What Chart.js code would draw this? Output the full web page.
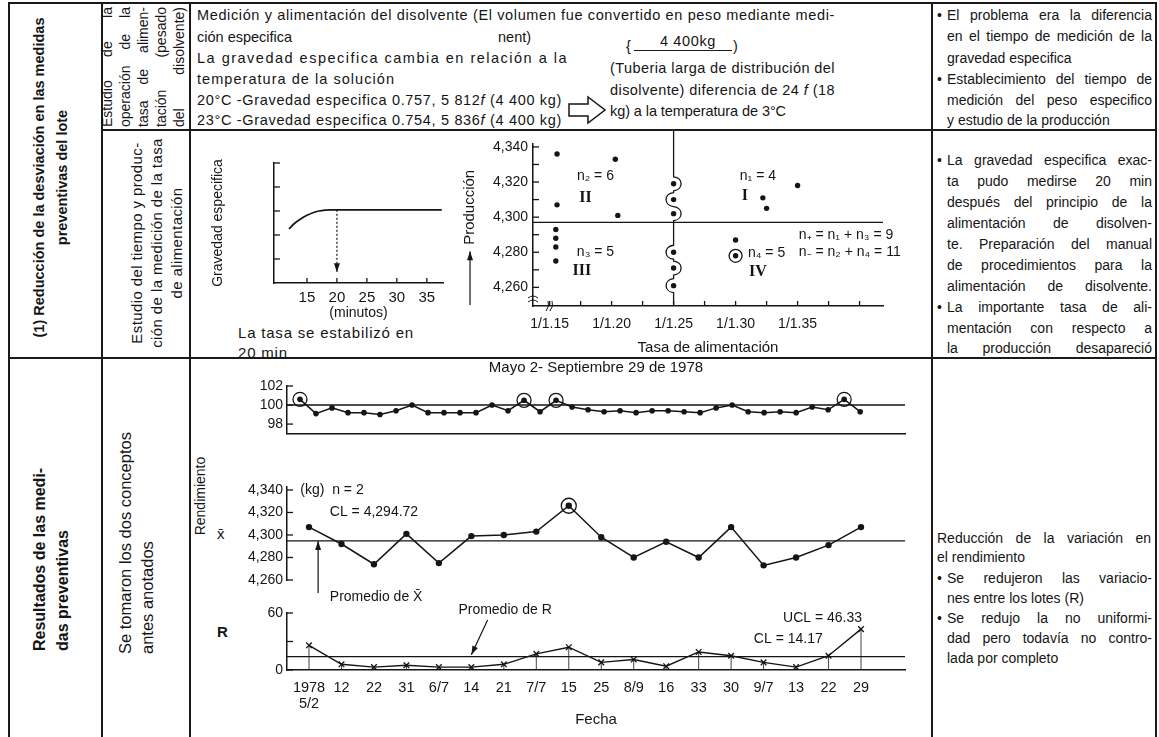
<!DOCTYPE html>
<html>
<head>
<meta charset="utf-8">
<script src="https://cdn.jsdelivr.net/npm/chart.js@4.4.0/dist/chart.umd.min.js"></script>
<style>
  body { margin: 0; background: #fff; }
  #page { position: relative; width: 1159px; height: 737px; overflow: hidden;
          font-family: "Liberation Sans", Arial, sans-serif; color: #151515; }
  .ln { position: absolute; background: #1a1a1a; }
  .t { position: absolute; white-space: nowrap; font-size: 14.5px; line-height: 20px; }
  .j { white-space: normal; text-align: justify; text-align-last: justify; }
  .rot { position: absolute; transform: rotate(-90deg); transform-origin: 0 0; }
  .c4 { font-size: 14px; line-height: 21px; }
  canvas { position: absolute; }
</style>
</head>
<body>
<div id="page">
  <!-- table rules -->
  <div class="ln" style="left:8px;top:2px;width:1149px;height:2px"></div>
  <div class="ln" style="left:8px;top:2px;width:1.5px;height:735px"></div>
  <div class="ln" style="left:1155px;top:2px;width:2px;height:735px"></div>
  <div class="ln" style="left:101px;top:2px;width:2px;height:735px"></div>
  <div class="ln" style="left:189px;top:2px;width:2px;height:735px"></div>
  <div class="ln" style="left:931px;top:2px;width:2px;height:735px"></div>
  <div class="ln" style="left:101px;top:129px;width:1056px;height:2px"></div>
  <div class="ln" style="left:8px;top:357px;width:1149px;height:2px"></div>

  <!-- first column -->
  <div class="rot" style="left:28px;top:350px;width:345px;line-height:23px;font-size:14.5px;font-weight:bold;text-align:center">(1) Reducción de la desviación en las medidas<br>preventivas del lote</div>
  <div class="rot" style="left:28px;top:651px;width:260px;line-height:23px;font-size:16px;font-weight:bold">Resultados de las medi-<br>das preventivas</div>

  <!-- second column -->
  <div class="rot j" style="left:98px;top:127px;width:120px;line-height:18px;font-size:14px">Estudio de la<br>operación de la<br>tasa de alimen-<br>tación (pesado<br>del disolvente)</div>
  <div class="rot" style="left:127px;top:350px;width:214px;line-height:20px;font-size:15px;letter-spacing:0.4px;text-align:center">Estudio del tiempo y produc-<br>ción de la medición de la tasa<br>de alimentación</div>
  <div class="rot" style="left:114px;top:654px;width:270px;line-height:22px;font-size:16.5px">Se tomaron los dos conceptos<br>antes anotados</div>

  <!-- row 1, third column -->
  <div class="t" data-w="638" style="left:197px;top:5px">Medición y alimentación del disolvente (El volumen fue convertido en peso mediante medi-</div>
  <div class="t" style="left:197px;top:27px">ción especifica</div>
  <div class="t" style="left:498px;top:27px">nent)</div>
  <div class="t" data-w="371" style="left:197px;top:48px">La gravedad especifica cambia en relación a la</div>
  <div class="t" data-w="198" style="left:197px;top:69px">temperatura de la solución</div>
  <div class="t" data-w="365" style="left:197px;top:90px">20°C -Gravedad especifica 0.757, 5 812<i>f</i> (4 400 kg)</div>
  <div class="t" data-w="365" style="left:197px;top:110px">23°C -Gravedad especifica 0.754, 5 836<i>f</i> (4 400 kg)</div>

  <div class="t" data-w="56" style="left:660px;top:31px">4 400kg</div>
  <div class="t" style="left:626px;top:36px">{</div>
  <div class="ln" style="left:634px;top:50px;width:98px;height:1.3px"></div>
  <div class="t" style="left:733px;top:36px">)</div>
  <div class="t" data-w="225" style="left:610px;top:58px">(Tuberia larga de distribución del</div>
  <div class="t" data-w="225" style="left:610px;top:80px">disolvente) diferencia de 24 <i>f</i> (18</div>
  <div class="t" data-w="176" style="left:610px;top:101px">kg) a la temperatura de 3°C</div>
  <svg style="position:absolute;left:567px;top:95px" width="42" height="32">
    <path d="M2 9 H21 V2 L38 15 L21 28 V21 H2 Z" fill="#fff" stroke="#151515" stroke-width="1.5"/>
  </svg>

  <!-- row 2, third column text -->
  <div class="t" style="left:238px;top:323px;font-size:15px;letter-spacing:0.8px">La tasa se estabilizó en</div>
  <div class="t" style="left:238px;top:343px;font-size:15px;letter-spacing:0.8px">20 min</div>

  <!-- section 2 axis words -->
  <div class="rot" style="left:192px;top:541px;width:90px;line-height:16px;font-size:14px;text-align:center">Rendimiento</div>
  <div class="t" style="left:217px;top:524px;font-size:15px">x̄</div>
  <div class="t" style="left:217px;top:622px;font-size:15px;font-weight:bold">R</div>

  <!-- fourth column -->
  <div class="t c4" style="left:937px;top:5px">•</div>
  <div class="t c4 j" style="left:947px;top:5px;width:205px">El problema era la diferencia</div>
  <div class="t c4 j" style="left:947px;top:26px;width:205px">en el tiempo de medición de la</div>
  <div class="t c4" style="left:947px;top:48px">gravedad especifica</div>
  <div class="t c4" style="left:937px;top:69px">•</div>
  <div class="t c4 j" style="left:947px;top:69px;width:205px">Establecimiento del tiempo de</div>
  <div class="t c4 j" style="left:947px;top:90px;width:205px">medición del peso especifico</div>
  <div class="t c4" style="left:947px;top:110px">y estudio de la producción</div>

  <div class="t c4" style="left:937px;top:150px">•</div>
  <div class="t c4 j" style="left:947px;top:150px;width:205px">La gravedad especifica exac-</div>
  <div class="t c4 j" style="left:947px;top:171px;width:205px">ta pudo medirse 20 min</div>
  <div class="t c4 j" style="left:947px;top:192px;width:205px">después del principio de la</div>
  <div class="t c4 j" style="left:947px;top:213px;width:205px">alimentación de disolven-</div>
  <div class="t c4 j" style="left:947px;top:234px;width:205px">te. Preparación del manual</div>
  <div class="t c4 j" style="left:947px;top:255px;width:205px">de procedimientos para la</div>
  <div class="t c4 j" style="left:947px;top:276px;width:205px">alimentación de disolvente.</div>
  <div class="t c4" style="left:937px;top:297px">•</div>
  <div class="t c4 j" style="left:947px;top:297px;width:205px">La importante tasa de ali-</div>
  <div class="t c4 j" style="left:947px;top:318px;width:205px">mentación con respecto a</div>
  <div class="t c4 j" style="left:947px;top:338px;width:205px">la producción desapareció</div>

  <div class="t c4 j" style="left:937px;top:528px;width:214px">Reducción de la variación en</div>
  <div class="t c4" style="left:937px;top:547px">el rendimiento</div>
  <div class="t c4" style="left:937px;top:568px">•</div>
  <div class="t c4 j" style="left:947px;top:568px;width:205px">Se redujeron las variacio-</div>
  <div class="t c4" style="left:947px;top:588px">nes entre los lotes (R)</div>
  <div class="t c4" style="left:937px;top:608px">•</div>
  <div class="t c4 j" style="left:947px;top:608px;width:205px">Se redujo la no uniformi-</div>
  <div class="t c4 j" style="left:947px;top:628px;width:205px">dad pero todavía no contro-</div>
  <div class="t c4" style="left:947px;top:648px">lada por completo</div>

  <canvas id="grav" width="270" height="190" style="left:190px;top:140px"></canvas>
  <canvas id="scat" width="487" height="228" style="left:440px;top:130px"></canvas>
  <canvas id="rend" width="737" height="88" style="left:190px;top:358px"></canvas>
  <canvas id="xbar" width="737" height="159" style="left:190px;top:446px"></canvas>
  <canvas id="rng" width="737" height="147" style="left:190px;top:590px"></canvas>
</div>

<script>
// stretch a few printed lines to the width they have in the scan
document.querySelectorAll('[data-w]').forEach((el) => {
  const natural = el.getBoundingClientRect().width;
  el.style.letterSpacing = ((+el.dataset.w - natural) / el.textContent.length) + 'px';
});

// ---- values ----
const gravMinutes = [12, 13, 14, 15, 16, 17, 18, 19, 20, 37.5];
const gravValues = [2.25, 2.5, 2.68, 2.82, 2.93, 3.0, 3.04, 3.05, 3.05, 3.05];
const gravXTicks = [15, 20, 25, 30, 35];
const gravYTicks = [1, 2, 3, 4, 5];
const gravSettled = 20;

const feedRate = [1.156, 1.156, 1.203, 1.205, 1.155, 1.155, 1.155, 1.155, 1.25, 1.25, 1.25, 1.25, 1.25, 1.25, 1.322, 1.325, 1.35, 1.30, 1.30];
const production = [4336, 4307, 4333, 4301, 4293, 4288, 4283, 4275, 4319, 4310, 4302, 4280, 4271, 4261, 4311, 4305, 4318, 4287, 4278];
const circledFeed = [1.30];
const circledProd = [4278];
const prodMean = 4297;
const feedSplit = 1.25;
const feedTicks = [1.15, 1.175, 1.2, 1.225, 1.25, 1.275, 1.3, 1.325, 1.35, 1.375, 1.4];
const feedLabelled = [1.15, 1.2, 1.25, 1.3, 1.35];
const prodTicks = [4260, 4270, 4280, 4290, 4300, 4310, 4320, 4330, 4340];

const yieldPct = [100.6, 99.1, 99.7, 99.2, 99.2, 99.0, 99.4, 100.0, 99.2, 99.2, 99.2, 99.2,
                  100.0, 99.4, 100.5, 99.3, 100.5, 99.8, 99.5, 99.3, 99.4, 99.2, 99.4, 99.4,
                  99.3, 99.2, 99.7, 100.0, 99.3, 99.2, 99.3, 99.2, 99.8, 99.5, 100.6, 99.3];
const yieldCircled = [0, 14, 16, 34];
const yieldTicks = [98, 99, 100, 101, 102];

const dates = [['1978', '5/2'], '12', '22', '31', '6/7', '14', '21', '7/7', '15',
               '25', '8/9', '16', '33', '30', '9/7', '13', '22', '29'];
const xbar = [4307, 4292, 4274, 4301, 4275, 4299, 4300, 4303, 4326, 4298, 4280, 4294,
              4280, 4307, 4273, 4280, 4291, 4307];
const xbarCircled = [8];
const xbarCL = 4294.72;
const xbarTicks = [4260, 4270, 4280, 4290, 4300, 4310, 4320, 4330, 4340];

const ranges = [26, 6, 3, 5, 3, 3, 6, 17, 24, 8, 11, 4, 19, 15, 8, 3, 15, 43];
const rangeCL = 14.17;
const rangeUCL = 46.33;
const rangeTicks = [0, 10, 20, 30, 40, 50, 60];

// ---- shared look ----
const ink = '#151515';
const sans = '"Liberation Sans", Arial, sans-serif';
const roman = 'bold 16px "Liberation Serif", serif';
Chart.defaults.font.family = sans;
Chart.defaults.font.size = 14;
Chart.defaults.color = ink;
Chart.defaults.animation = false;
Chart.defaults.devicePixelRatio = 1;
Chart.defaults.plugins.legend.display = false;
Chart.defaults.plugins.tooltip.enabled = false;

// pin the scale boxes so the plot areas sit where the scan has them
const fixW = (w) => (scale) => { scale.width = w; };
const fixH = (h) => (scale) => { scale.height = h; };
const setTicks = (vals) => (scale) => { scale.ticks = vals.map((v) => ({ value: v })); };
const axisBorder = { color: ink, width: 1.5 };
const noGrid = { display: false, drawTicks: false };

// tick marks drawn inside the plot, like the printed charts
const innerTicks = {
  id: 'innerTicks',
  afterDraw(chart, args, opts) {
    const ctx = chart.ctx;
    ctx.save();
    ctx.strokeStyle = ink;
    ctx.lineWidth = 1.3;
    ['x', 'y'].forEach((id) => {
      const len = opts[id];
      const s = chart.scales[id];
      if (!len || !s) return;
      s.ticks.forEach((t) => {
        const p = s.getPixelForValue(t.value);
        ctx.beginPath();
        if (id === 'y') { ctx.moveTo(s.right, p); ctx.lineTo(s.right + len, p); }
        else { ctx.moveTo(p, s.top); ctx.lineTo(p, s.top - len); }
        ctx.stroke();
      });
    });
    ctx.restore();
  }
};

const drawArrow = (ctx, x1, y1, x2, y2, dash) => {
  ctx.save();
  ctx.strokeStyle = ink;
  ctx.fillStyle = ink;
  ctx.lineWidth = 1.2;
  if (dash) ctx.setLineDash(dash);
  ctx.beginPath();
  ctx.moveTo(x1, y1);
  ctx.lineTo(x2, y2);
  ctx.stroke();
  ctx.setLineDash([]);
  const a = Math.atan2(y2 - y1, x2 - x1);
  ctx.beginPath();
  ctx.moveTo(x2, y2);
  ctx.lineTo(x2 - 9 * Math.cos(a) + 3 * Math.sin(a), y2 - 9 * Math.sin(a) - 3 * Math.cos(a));
  ctx.lineTo(x2 - 9 * Math.cos(a) - 3 * Math.sin(a), y2 - 9 * Math.sin(a) + 3 * Math.cos(a));
  ctx.closePath();
  ctx.fill();
  ctx.restore();
};

// labels and arrows placed in data units
const notes = {
  id: 'notes',
  afterDatasetsDraw(chart, args, opts) {
    const { ctx, scales: { x, y } } = chart;
    (opts.items || []).forEach((n) => {
      ctx.save();
      ctx.font = n.font || '14px ' + sans;
      ctx.fillStyle = ink;
      ctx.textAlign = n.align || 'left';
      ctx.textBaseline = 'middle';
      ctx.translate(x.getPixelForValue(n.x), y.getPixelForValue(n.y));
      if (n.rot) ctx.rotate(n.rot);
      ctx.fillText(n.text, 0, 0);
      ctx.restore();
    });
    (opts.arrows || []).forEach((a) => {
      drawArrow(ctx, x.getPixelForValue(a.x1), y.getPixelForValue(a.y1),
                x.getPixelForValue(a.x2), y.getPixelForValue(a.y2), a.dash);
    });
  }
};

// vertical split line that winds round the points lying on it
const waveLine = {
  id: 'waveLine',
  afterDatasetsDraw(chart) {
    const { ctx, chartArea, scales: { x, y } } = chart;
    const px = x.getPixelForValue(feedSplit);
    const ys = production.filter((p, i) => feedRate[i] === feedSplit)
      .map((v) => y.getPixelForValue(v)).sort((a, b) => a - b);
    ctx.save();
    ctx.strokeStyle = ink;
    ctx.lineWidth = 1.3;
    ctx.beginPath();
    ctx.moveTo(px, 0);
    ys.forEach((py, k) => {
      const side = k % 2 ? -1 : 1;
      ctx.lineTo(px, py - 7);
      ctx.bezierCurveTo(px + side * 10, py - 6, px + side * 10, py + 6, px, py + 7);
    });
    ctx.lineTo(px, chartArea.bottom);
    ctx.stroke();
    // axis break marks at the origin
    const bx = chartArea.left, by = chartArea.bottom;
    ctx.lineWidth = 1;
    [[bx, by - 9], [bx, by - 5]].forEach(([cx, cy]) => {
      ctx.beginPath();
      ctx.moveTo(cx - 5, cy + 1);
      ctx.quadraticCurveTo(cx, cy - 3, cx + 5, cy + 1);
      ctx.stroke();
    });
    [[bx + 14, by], [bx + 18, by]].forEach(([cx, cy]) => {
      ctx.beginPath();
      ctx.moveTo(cx - 1, cy + 5);
      ctx.quadraticCurveTo(cx + 3, cy, cx + 1, cy - 5);
      ctx.stroke();
    });
    ctx.restore();
  }
};

// thin drop lines from each range point to the zero line
const dropLines = {
  id: 'dropLines',
  beforeDatasetsDraw(chart) {
    const { ctx, scales: { x, y } } = chart;
    ctx.save();
    ctx.strokeStyle = ink;
    ctx.lineWidth = 0.8;
    ranges.forEach((v, i) => {
      const px = x.getPixelForValue(i);
      ctx.beginPath();
      ctx.moveTo(px, y.getPixelForValue(v));
      ctx.lineTo(px, y.getPixelForValue(0));
      ctx.stroke();
    });
    ctx.restore();
  }
};

// ---- specific gravity vs. minutes ----
new Chart(document.getElementById('grav'), {
  type: 'line',
  data: {
    datasets: [{
      data: gravMinutes.map((m, i) => ({ x: m, y: gravValues[i] })),
      borderColor: ink, borderWidth: 1.7, pointRadius: 0, cubicInterpolationMode: 'monotone'
    }]
  },
  options: {
    responsive: false,
    layout: { padding: { top: 23, right: 17 } },
    scales: {
      x: {
        type: 'linear', min: 9.5, max: 37.7,
        afterFit: fixH(47), afterBuildTicks: setTicks(gravXTicks),
        grid: noGrid, border: axisBorder,
        ticks: { padding: 6, font: { size: 15 } },
        title: { display: true, text: '(minutos)', padding: { top: 0, bottom: 8 }, font: { size: 14 } }
      },
      y: {
        min: 0, max: 5,
        afterFit: fixW(84), afterBuildTicks: setTicks(gravYTicks),
        grid: noGrid, border: axisBorder, ticks: { display: false },
        title: { display: true, text: 'Gravedad especifica', padding: { top: 20, bottom: 0 }, font: { size: 14 } }
      }
    },
    plugins: {
      innerTicks: { x: 5, y: 6 },
      notes: { arrows: [{ x1: gravSettled, y1: 3.05, x2: gravSettled, y2: 0.45, dash: [2, 2] }] }
    }
  },
  plugins: [innerTicks, notes]
});

// ---- production vs. feed rate ----
const xMinFeed = 1.1366, xMaxFeed = 1.4189;
new Chart(document.getElementById('scat'), {
  type: 'scatter',
  data: {
    datasets: [
      {
        data: feedRate.map((f, i) => ({ x: f, y: production[i] })),
        pointRadius: 2.7, pointBackgroundColor: ink, pointBorderWidth: 0
      },
      {
        data: circledFeed.map((f, i) => ({ x: f, y: circledProd[i] })),
        pointRadius: 6.5, pointBackgroundColor: 'transparent', pointBorderColor: ink, pointBorderWidth: 1.3
      },
      {
        type: 'line',
        data: [{ x: xMinFeed, y: prodMean }, { x: xMaxFeed, y: prodMean }],
        borderColor: ink, borderWidth: 1.3, pointRadius: 0
      }
    ]
  },
  options: {
    responsive: false,
    layout: { padding: { top: 9.4, right: 44 } },
    scales: {
      x: {
        type: 'linear', min: xMinFeed, max: xMaxFeed,
        afterFit: fixH(52), afterBuildTicks: setTicks(feedTicks),
        grid: noGrid, border: axisBorder,
        ticks: {
          padding: 10, autoSkip: false, maxRotation: 0,
          callback: (v) => feedLabelled.some((f) => Math.abs(f - v) < 1e-6) ? '1/' + v.toFixed(2) : ''
        },
        title: { display: true, text: 'Tasa de alimentación', padding: { top: 0, bottom: 1 }, font: { size: 15 } }
      },
      y: {
        min: 4249.4, max: 4342,
        afterFit: fixW(93), afterBuildTicks: setTicks(prodTicks),
        grid: noGrid, border: axisBorder,
        ticks: { padding: 5, callback: (v) => v % 20 === 0 ? v.toLocaleString('en-US') : '' }
      }
    },
    plugins: {
      innerTicks: { x: 5, y: 6 },
      notes: {
        items: [
          { x: 1.0858, y: 4305.6, text: 'Producción', align: 'center', rot: -Math.PI / 2, font: '15px ' + sans },
          { x: 1.187, y: 4323.6, text: 'n₂ = 6', align: 'center' },
          { x: 1.179, y: 4311, text: 'II', align: 'center', font: roman },
          { x: 1.187, y: 4280.2, text: 'n₃ = 5', align: 'center' },
          { x: 1.176, y: 4269.5, text: 'III', align: 'center', font: roman },
          { x: 1.318, y: 4323.6, text: 'n₁ = 4', align: 'center' },
          { x: 1.3075, y: 4312, text: 'I', align: 'center', font: roman },
          { x: 1.310, y: 4279.6, text: 'n₄ = 5' },
          { x: 1.318, y: 4268.6, text: 'IV', align: 'center', font: roman },
          { x: 1.351, y: 4289.8, text: 'n₊ = n₁ + n₃ = 9' },
          { x: 1.351, y: 4280.2, text: 'n₋ = n₂ + n₄ = 11' }
        ],
        arrows: [{ x1: 1.0858, y1: 4250, x2: 1.0858, y2: 4280.6 }]
      }
    }
  },
  plugins: [innerTicks, notes, waveLine]
});

// ---- yield (%) per sample ----
const rendMin = -0.81, rendMax = 37.8;
new Chart(document.getElementById('rend'), {
  type: 'line',
  data: {
    datasets: [
      {
        data: yieldPct.map((v, i) => ({ x: i, y: v })),
        borderColor: ink, borderWidth: 1.5, pointRadius: 2.8, pointBackgroundColor: ink, pointBorderWidth: 0
      },
      {
        data: yieldCircled.map((i) => ({ x: i, y: yieldPct[i] })),
        showLine: false, pointRadius: 7, pointBackgroundColor: 'transparent', pointBorderColor: ink, pointBorderWidth: 1.3
      },
      {
        data: [{ x: rendMin, y: 100 }, { x: rendMax, y: 100 }],
        borderColor: ink, borderWidth: 1.4, pointRadius: 0
      }
    ]
  },
  options: {
    responsive: false,
    layout: { padding: { top: 0, right: 22 } },
    scales: {
      x: {
        type: 'linear', min: rendMin, max: rendMax, afterFit: fixH(5),
        ticks: { display: false }, grid: noGrid, border: axisBorder
      },
      y: {
        min: 97, max: 102,
        afterFit: fixW(97), afterBuildTicks: setTicks(yieldTicks),
        grid: noGrid, border: axisBorder,
        ticks: { padding: 4, callback: (v) => v % 2 === 0 ? String(v) : '' }
      }
    },
    plugins: {
      title: {
        display: true, text: 'Mayo 2- Septiembre 29 de 1978', fullSize: false,
        padding: { top: 1, bottom: 9 }, font: { size: 15, weight: 'normal' }
      },
      innerTicks: { y: 6 }
    }
  },
  plugins: [innerTicks]
});

// ---- x-bar chart ----
const dMin = -0.678, dMax = 18.355;
new Chart(document.getElementById('xbar'), {
  type: 'line',
  data: {
    datasets: [
      {
        data: xbar.map((v, i) => ({ x: i, y: v })),
        borderColor: ink, borderWidth: 1.5, pointRadius: 3.2, pointBackgroundColor: ink, pointBorderWidth: 0
      },
      {
        data: xbarCircled.map((i) => ({ x: i, y: xbar[i] })),
        showLine: false, pointRadius: 7.5, pointBackgroundColor: 'transparent', pointBorderColor: ink, pointBorderWidth: 1.3
      },
      {
        data: [{ x: dMin, y: xbarCL }, { x: dMax, y: xbarCL }],
        borderColor: ink, borderWidth: 1.3, pointRadius: 0
      }
    ]
  },
  options: {
    responsive: false,
    layout: { padding: { top: 40.6, bottom: 25, right: 22 } },
    scales: {
      x: { type: 'linear', display: false, min: dMin, max: dMax },
      y: {
        min: 4260, max: 4343,
        afterFit: fixW(97), afterBuildTicks: setTicks(xbarTicks),
        grid: noGrid, border: axisBorder,
        ticks: { padding: 4, callback: (v) => v % 20 === 0 ? v.toLocaleString('en-US') : '' }
      }
    },
    plugins: {
      innerTicks: { y: 6 },
      notes: {
        items: [
          { x: -0.27, y: 4340, text: '(kg)  n = 2' },
          { x: 0.64, y: 4320.4, text: 'CL = ' + xbarCL.toLocaleString('en-US') },
          { x: 0.64, y: 4244.9, text: 'Promedio de X̄' }
        ],
        arrows: [{ x1: 0.28, y1: 4248.5, x2: 0.28, y2: xbarCL }]
      }
    }
  },
  plugins: [innerTicks, notes]
});

// ---- range chart ----
new Chart(document.getElementById('rng'), {
  type: 'line',
  data: {
    datasets: [
      {
        data: ranges.map((v, i) => ({ x: i, y: v })),
        borderColor: ink, borderWidth: 1.4, pointStyle: 'crossRot', pointRadius: 4,
        pointBorderColor: ink, pointBorderWidth: 1.3
      },
      {
        data: [{ x: dMin, y: rangeCL }, { x: dMax, y: rangeCL }],
        borderColor: ink, borderWidth: 1.3, pointRadius: 0
      }
    ]
  },
  options: {
    responsive: false,
    layout: { padding: { top: 23, right: 22 } },
    scales: {
      x: {
        type: 'linear', min: dMin, max: dMax,
        afterFit: fixH(67), afterBuildTicks: setTicks(dates.map((d, i) => i)),
        grid: noGrid, border: axisBorder,
        ticks: { padding: 10, autoSkip: false, maxRotation: 0, font: { size: 14.5, lineHeight: 1.1 },
                 callback: (v) => dates[v] },
        title: { display: true, text: 'Fecha', padding: { top: 0, bottom: 8 }, font: { size: 15 } }
      },
      y: {
        min: 0, max: 60,
        afterFit: fixW(97), afterBuildTicks: setTicks(rangeTicks),
        grid: noGrid, border: axisBorder,
        ticks: { padding: 4, callback: (v) => v % 20 === 0 ? String(v) : '' }
      }
    },
    plugins: {
      innerTicks: { y: 6 },
      notes: {
        items: [
          { x: 14.6, y: 54.7, text: 'UCL = ' + rangeUCL },
          { x: 4.6, y: 63.2, text: 'Promedio de R' },
          { x: 13.7, y: 32.6, text: 'CL = ' + rangeCL }
        ],
        arrows: [{ x1: 5.5, y1: 52.6, x2: 5.0, y2: 16 }]
      }
    }
  },
  plugins: [innerTicks, notes, dropLines]
});
</script>
</body>
</html>
